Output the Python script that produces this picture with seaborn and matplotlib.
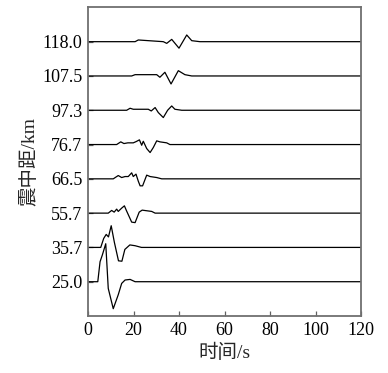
import numpy as np
import pandas as pd
import matplotlib
matplotlib.use("Agg")
import matplotlib.pyplot as plt
import seaborn as sns

# epicentral distances (bottom to top)
distances = ["25.0", "35.7", "55.7", "66.5", "76.7", "97.3", "107.5", "118.0"]

# waveform samples: time (s) and amplitude (arbitrary units)
t25 = [0, 4.3, 5.3, 6.3, 7.8, 8.9, 11.1, 13.3, 14.8, 16.3, 18.5, 20.7, 120]
a25 = [0, 0, 20, 26.7, 38, -6.7, -27, -13, -1.7, 1.7, 2.3, 0, 0]

t35 = [0, 5.6, 6.9, 8.0, 9.0, 10.2, 11.6, 13.4, 14.9, 16.2, 18.4, 20.7, 23.5, 120]
a35 = [0, 0, 9, 13, 10.5, 21.7, 5, -13.4, -13.8, -2, 2.5, 1.7, 0, 0]

t55 = [0, 8.9, 10.4, 11.5, 12.6, 13.3, 14.8, 16.0, 16.8, 19.2, 20.7, 22.5, 23.8, 28.0, 29.5, 120]
a55 = [0, 0, 2.7, 1, 4, 1.7, 5, 7.3, 3, -9, -9.5, 1, 3, 1.7, 0, 0]

t66 = [0, 11.1, 13.3, 14.8, 16.3, 17.7, 19.2, 19.9, 21.1, 22.1, 22.9, 24.0, 25.8, 27.3, 30.2, 32.4, 120]
a66 = [0, 0, 3.3, 1.3, 2.3, 2.3, 6, 2.3, 4.7, -2.3, -7, -7, 3.7, 2.3, 1.3, 0, 0]

t76 = [0, 12.6, 14.4, 15.8, 17.5, 19.9, 21.2, 22.6, 23.6, 24.3, 25.8, 27.3, 28.7, 30.2, 31.6, 34.6, 36.0, 120]
a76 = [0, 0, 2.7, 1, 1.7, 1.7, 3, 4.7, -0.7, 3.3, -4, -8, -3, 3.7, 2.7, 1.7, 0, 0]

t97 = [0, 17.0, 18.5, 19.9, 26.5, 27.8, 29.5, 30.9, 33.1, 35.0, 36.8, 38.2, 41.2, 120]
a97 = [0, 0, 2, 1, 1, -0.7, 2.7, -2.3, -7.3, 0, 4.3, 1, 0, 0]

t107 = [0, 19.2, 20.7, 30.2, 31.6, 33.8, 36.5, 39.7, 42.6, 45.6, 120]
a107 = [0, 0, 1.3, 1.3, -1.3, 3.7, -8, 5.3, 1.3, 0, 0]

t118 = [0, 20.7, 22.1, 33.1, 34.6, 36.8, 40.0, 43.4, 45.6, 49.2, 120]
a118 = [0, 0, 1.7, 0, -1.7, 2.3, -6.5, 6.7, 1, 0, 0]

traces = [(t25, a25), (t35, a35), (t55, a55), (t66, a66),
          (t76, a76), (t97, a97), (t107, a107), (t118, a118)]
gain = 1 / 34.3

x_ticks = [0, 20, 40, 60, 80, 100, 120]

sns.set_style("ticks")
plt.rcParams["font.family"] = ["Liberation Serif", "Noto Sans CJK SC"]
plt.rcParams["axes.unicode_minus"] = False

fig = plt.figure(figsize=(3.88, 3.73), dpi=100)
ax = fig.add_axes([88 / 388, 1 - 316 / 373, 273 / 388, (316 - 6.7) / 373])

for i, (t, a) in enumerate(traces):
    df = pd.DataFrame({"time": t, "y": i + np.array(a) * gain})
    sns.lineplot(data=df, x="time", y="y", sort=False, estimator=None,
                 color="black", linewidth=0.9, ax=ax)

ax.set_xlim(0, 120)
ax.set_ylim(-1.0, 8.02)
ax.set_xticks(x_ticks)
ax.set_xticklabels([str(v) for v in x_ticks])
ax.set_yticks(range(len(distances)))
ax.set_yticklabels(distances)
ax.tick_params(direction="in", length=3.5, width=0.9, color="#606060",
               labelsize=13, pad=4, labelcolor="black")
for s in ax.spines.values():
    s.set_color("#707070")
    s.set_linewidth(1.3)

ax.set_xlabel("时间/s", fontsize=14, labelpad=4)
ax.set_ylabel("震中距/km", fontsize=14, labelpad=3)

fig.savefig("out.png", dpi=100)
